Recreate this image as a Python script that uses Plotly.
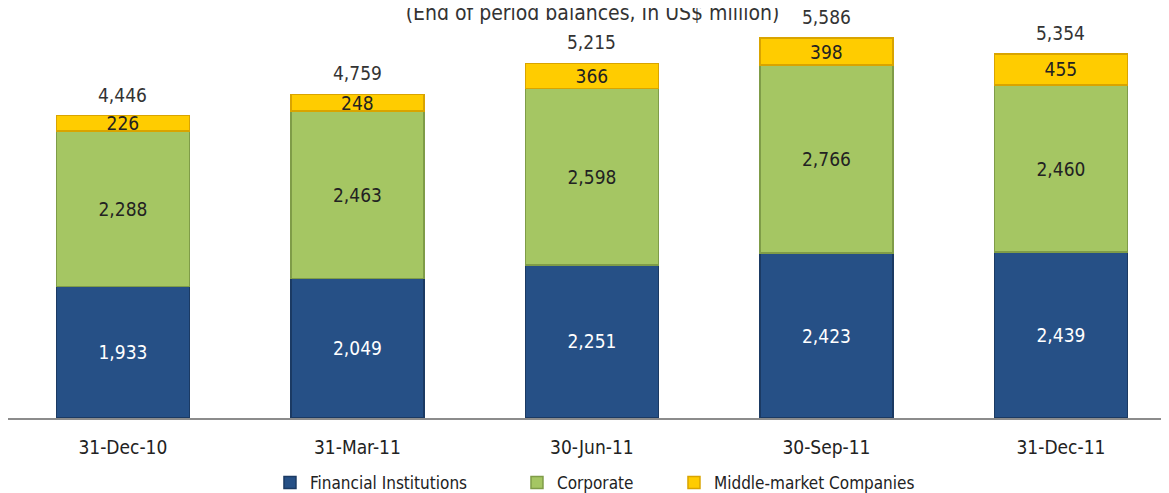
import plotly.graph_objects as go

# ---- data ----
categories = ["31-Dec-10", "31-Mar-11", "30-Jun-11", "30-Sep-11", "31-Dec-11"]
financial = [1933, 2049, 2251, 2423, 2439]
corporate = [2288, 2463, 2598, 2766, 2460]
middle_market = [226, 248, 366, 398, 455]
totals = [4446, 4759, 5215, 5586, 5354]

FONT = "Liberation Sans Narrow, DejaVu Sans Condensed, Arial Narrow, sans-serif"

fig = go.Figure()

# page body has an 8px margin, so the layout below is shifted up/left by 8px
series = [
    ("Financial Institutions", financial, "#265086", "#1b3a63", "white", "legend"),
    ("Corporate", corporate, "#a5c663", "#7f9c48", "#222222", "legend2"),
    ("Middle-market Companies", middle_market, "#ffcc00", "#d9a400", "#222222", "legend3"),
]
for name, vals, col, edge, tcol, lg in series:
    fig.add_trace(go.Bar(
        x=categories, y=vals, name=name, legend=lg, showlegend=True,
        marker=dict(color=col, line=dict(color=edge, width=1.5)),
        text=[f"{v:,}" for v in vals],
        textposition="inside", insidetextanchor="middle",
        constraintext="none",
        textfont=dict(family=FONT, size=19, color=tcol),
        hovertemplate="%{x}: %{y:,}<extra>" + name + "</extra>",
    ))

# totals above the stacks
for cat, tot in zip(categories, totals):
    fig.add_annotation(
        x=cat, y=tot, text=f"{tot:,}", showarrow=False,
        yanchor="bottom", yshift=8,
        font=dict(family=FONT, size=19, color="#333333"),
    )

legend_style = dict(
    orientation="h", xanchor="left", y=-0.163, yanchor="middle",
    font=dict(family=FONT, size=17, color="#222222"),
    bgcolor="rgba(0,0,0,0)", visible=True,
)

fig.update_layout(
    width=1169, height=493,
    barmode="stack", bargap=0.433,
    showlegend=True,
    plot_bgcolor="white", paper_bgcolor="white",
    margin=dict(l=0, r=0, t=12, b=83, autoexpand=False),
    font=dict(family=FONT, size=17, color="#222222"),
    title=dict(
        text="(End of period balances, In US$ million)",
        x=0.5, xanchor="center", y=0.991, yanchor="middle",
        font=dict(family=FONT, size=21, color="#333333"),
    ),
    xaxis=dict(
        type="category", range=[-0.49, 4.495],
        showline=True, linecolor="#8c8c8c", linewidth=2,
        ticks="", ticklabelstandoff=11,
        tickfont=dict(family=FONT, size=19, color="#222222"),
    ),
    yaxis=dict(range=[0, 5853], visible=False, showgrid=False),
    legend=dict(x=0.2241, **legend_style),
    legend2=dict(x=0.4354, **legend_style),
    legend3=dict(x=0.5697, **legend_style),
)

fig.write_html("out.html")
